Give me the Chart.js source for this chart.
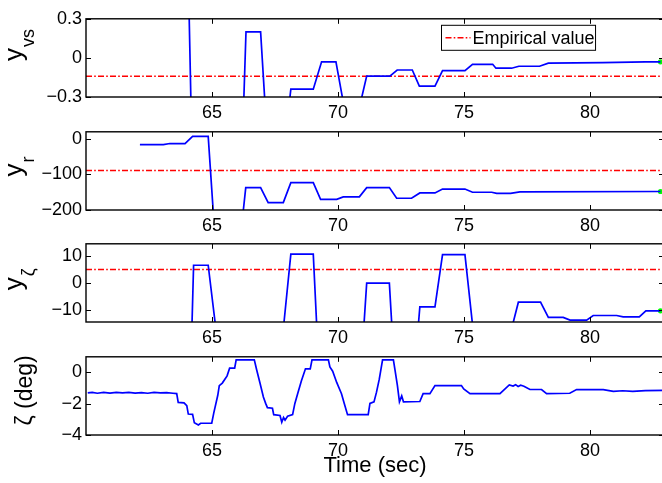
<!DOCTYPE html>
<html lang="en">
<head>
<meta charset="UTF-8">
<title>Observer outputs vs time</title>
<script src="https://cdn.jsdelivr.net/npm/chart.js"></script>
<style>
    html, body { margin: 0; padding: 0; background: #fff; overflow: hidden; }
    body { width: 662px; height: 483px; position: relative; }
    canvas { position: absolute; left: 0; }
</style>
</head>
<body>
<canvas id="panelVs"></canvas>
<canvas id="panelR"></canvas>
<canvas id="panelZeta"></canvas>
<canvas id="panelDeg"></canvas>
<script>
// shared time axis (sec)
const timeMin = 60;
const timeMax = 82.94;
const timeTicks = [65, 70, 75, 80];

// y_vs
const vsTime  = [62.14, 63.07, 63.33, 63.93, 64.0, 64.3, 66.05, 66.35, 66.93, 67.23, 67.83, 68.13, 69.02, 69.35, 69.92, 70.22, 70.85, 71.14, 72.06, 72.35, 72.95, 73.23, 73.85, 74.15, 75.04, 75.34, 76.14, 76.27, 76.89, 77.18, 78.0, 78.35, 80.5, 82.2, 82.8];
const vsValue = [0.95, 0.95, 0.9, 0.9, 1.2, -1.6, -1.6, 0.2, 0.2, -0.75, -0.75, -0.24, -0.24, -0.03, -0.03, -0.35, -0.38, -0.14, -0.14, -0.093, -0.093, -0.217, -0.217, -0.098, -0.098, -0.049, -0.049, -0.079, -0.079, -0.064, -0.064, -0.04, -0.037, -0.031, -0.03];
const vsEmpirical = -0.14;
const vsTicks = [-0.3, 0, 0.3];

// y_r
const rTime  = [62.14, 63.07, 63.33, 63.93, 64.23, 64.85, 65.15, 66.05, 66.34, 66.93, 67.23, 67.83, 68.13, 69.02, 69.31, 69.95, 70.21, 70.85, 71.14, 72.04, 72.33, 72.92, 73.25, 73.85, 74.15, 75.04, 75.34, 76.1, 76.3, 76.85, 77.22, 82.8];
const rValue = [-16, -16, -13, -13, 7, 7, -310, -330, -137, -137, -179, -179, -123, -123, -170, -170, -163, -163, -137, -137, -167, -167, -152, -152, -141, -141, -150, -150, -153, -153, -149, -148];
const rEmpirical = -89;
const rTicks = [-200, -100, 0];

// y_zeta
const zTime  = [62.14, 63.93, 64.27, 64.85, 65.15, 67.83, 68.13, 69.02, 69.31, 70.85, 71.14, 72.04, 72.33, 72.92, 73.25, 73.85, 74.15, 75.04, 75.34, 76.85, 77.16, 78.04, 78.35, 78.94, 79.21, 79.87, 80.13, 81.06, 81.32, 81.96, 82.22, 82.8];
const zValue = [-110, -110, 6.6, 6.6, -16.5, -17, 10.7, 10.7, -45, -41, 0, 0, -46, -46, -8.7, -8.7, 10.5, 10.5, -15.2, -18.3, -7, -7, -12.6, -12.6, -13.6, -13.6, -11.9, -11.9, -12.4, -12.4, -10.2, -10.2];
const zEmpirical = 5;
const zTicks = [-10, 0, 10];

// zeta (deg)
const degTime  = [60.07, 60.25, 60.45, 60.7, 60.95, 61.2, 61.45, 61.7, 61.95, 62.2, 62.45, 62.7, 62.95, 63.2, 63.45, 63.6, 63.66, 63.89, 64.0, 64.06, 64.23, 64.3, 64.46, 64.55, 64.99, 65.07, 65.23, 65.29, 65.41, 65.6, 65.7, 65.9, 65.96, 66.68, 66.77, 66.9, 67.04, 67.13, 67.2, 67.4, 67.45, 67.7, 67.77, 67.84, 67.9, 68.0, 68.2, 68.29, 68.4, 68.55, 68.71, 68.9, 68.97, 69.62, 69.68, 69.79, 69.95, 70.14, 70.25, 70.38, 71.2, 71.27, 71.43, 71.53, 71.64, 71.77, 72.2, 72.26, 72.36, 72.44, 72.53, 72.6, 73.25, 73.38, 73.65, 73.85, 74.9, 74.99, 75.24, 76.43, 76.8, 76.95, 77.05, 77.15, 77.25, 77.38, 77.62, 78.08, 78.28, 79.2, 79.47, 80.53, 80.93, 81.3, 81.7, 82.2, 82.94];
const degValue = [-1.31, -1.27, -1.33, -1.28, -1.32, -1.27, -1.31, -1.28, -1.32, -1.29, -1.33, -1.28, -1.31, -1.29, -1.33, -1.35, -1.92, -1.94, -2.12, -2.66, -2.68, -3.22, -3.36, -3.25, -3.25, -2.6, -1.46, -0.84, -0.68, -0.22, 0.27, 0.27, 0.8, 0.8, 0.19, -0.64, -1.57, -1.98, -2.25, -2.29, -2.7, -2.75, -3.18, -2.88, -3.05, -2.8, -2.7, -1.98, -1.36, -0.53, 0.23, 0.23, 0.8, 0.8, 0.35, 0.08, -0.64, -1.36, -1.98, -2.7, -2.7, -1.98, -1.88, -1.26, -0.43, 0.8, 0.8, 0.19, -0.84, -1.88, -1.5, -1.88, -1.86, -1.36, -1.36, -0.84, -0.84, -1.05, -1.36, -1.36, -0.8, -0.87, -0.78, -0.9, -0.82, -0.88, -1.09, -1.09, -1.36, -1.33, -1.09, -1.1, -1.21, -1.17, -1.21, -1.16, -1.15];
const degTicks = [-4, -2, 0];

const family = '"Liberation Sans", Arial, Helvetica, sans-serif';
Chart.defaults.font.family = family;
Chart.defaults.color = '#000';

const padTop = 12;
const plotH = 81;

function minusSign(v) {
    return String(v).replace('-', '\u2212');
}

function points(ts, vs) {
    return ts.map((t, i) => ({ x: t, y: vs[i] }));
}

// box around the axes plus inward tick marks on all four sides
const frameTicks = {
    id: 'frameTicks',
    afterDatasetsDraw(chart) {
        const { ctx, chartArea: a, scales: { x, y } } = chart;
        ctx.save();
        ctx.strokeStyle = '#000';
        ctx.lineWidth = 1;
        ctx.beginPath();
        x.ticks.forEach(t => {
            const px = Math.round(x.getPixelForValue(t.value)) + 0.5;
            ctx.moveTo(px, a.bottom); ctx.lineTo(px, a.bottom - 5);
            ctx.moveTo(px, a.top); ctx.lineTo(px, a.top + 5);
        });
        y.ticks.forEach(t => {
            const py = Math.round(y.getPixelForValue(t.value)) + 0.5;
            ctx.moveTo(a.left, py); ctx.lineTo(a.left + 5, py);
            ctx.moveTo(a.right, py); ctx.lineTo(a.right - 5, py);
        });
        ctx.stroke();
        ctx.lineWidth = 1.4;
        ctx.strokeRect(a.left, a.top, a.right - a.left, a.bottom - a.top);
        ctx.restore();
    }
};

// rotated y label, optional subscript
const sideLabel = {
    id: 'sideLabel',
    afterDraw(chart, args, o) {
        if (!o.main) return;
        const { ctx, chartArea: a } = chart;
        const cy = (a.top + a.bottom) / 2 + o.shift;
        ctx.save();
        ctx.fillStyle = '#000';
        ctx.textBaseline = 'alphabetic';
        ctx.font = o.mainSize + 'px ' + family;
        const mw = ctx.measureText(o.main).width + o.gap;
        ctx.font = o.subSize + 'px ' + family;
        const sw = o.sub ? ctx.measureText(o.sub).width : 0;
        ctx.translate(o.baseX, cy + (mw + sw) / 2);
        ctx.rotate(-Math.PI / 2);
        ctx.font = o.mainSize + 'px ' + family;
        ctx.fillText(o.main, 0, 0);
        if (o.sub) {
            ctx.font = o.subSize + 'px ' + family;
            ctx.fillText(o.sub, mw, o.subDrop);
        }
        ctx.restore();
    }
};

// legend box for the red reference line
const empiricalLegend = {
    id: 'empiricalLegend',
    afterDraw(chart, args, o) {
        if (!o.show) return;
        const ds = chart.data.datasets[1];
        const { ctx, chartArea: a } = chart;
        ctx.save();
        ctx.font = '18px ' + family;
        const tw = ctx.measureText(ds.label).width;
        const bx = 441.5, by = a.top + 6.5, bw = 32 + tw, bh = 25;
        ctx.fillStyle = '#fff';
        ctx.fillRect(bx, by, bw, bh);
        ctx.strokeStyle = '#000';
        ctx.lineWidth = 1;
        ctx.strokeRect(bx, by, bw, bh);
        ctx.strokeStyle = ds.borderColor;
        ctx.lineWidth = ds.borderWidth;
        ctx.setLineDash(ds.borderDash);
        ctx.beginPath();
        ctx.moveTo(bx + 4, by + bh / 2);
        ctx.lineTo(bx + 29, by + bh / 2);
        ctx.stroke();
        ctx.setLineDash([]);
        ctx.fillStyle = '#000';
        ctx.textBaseline = 'middle';
        ctx.fillText(ds.label, bx + 31, by + bh / 2 + 1);
        ctx.restore();
    }
};

function buildPanel(id, plotTop, p) {
    const canvas = document.getElementById(id);
    canvas.width = 680;
    canvas.height = padTop + plotH + p.axisH;
    canvas.style.top = (plotTop - padTop) + 'px';

    const datasets = [{
        label: p.name,
        data: points(p.time, p.value),
        borderColor: '#0000ff',
        borderWidth: 1.7,
        pointRadius: 0,
        clip: 0
    }];
    if (p.empirical !== undefined) {
        datasets.push({
            label: 'Empirical value',
            data: [{ x: timeMin, y: p.empirical }, { x: timeMax, y: p.empirical }],
            borderColor: '#ff0000',
            borderWidth: 1.5,
            borderDash: [6, 2.2, 1.6, 2.2],
            pointRadius: 0,
            clip: 0
        });
        const n = p.time.length - 1;
        datasets.push({
            label: 'current',
            data: [{ x: p.time[n], y: p.value[n] }],
            showLine: false,
            pointRadius: 2.6,
            pointBorderWidth: 0,
            pointBackgroundColor: '#00ff00',
            clip: false
        });
    }

    return new Chart(canvas, {
        type: 'line',
        data: { datasets },
        options: {
            responsive: false,
            animation: false,
            events: [],
            layout: { padding: { top: padTop, right: 16, left: 0, bottom: 0 } },
            scales: {
                x: {
                    type: 'linear',
                    min: timeMin,
                    max: timeMax,
                    grid: { display: false, drawTicks: false },
                    border: { display: false },
                    afterBuildTicks: s => { s.ticks = timeTicks.map(v => ({ value: v })); },
                    afterFit: s => { s.height = p.axisH; },
                    ticks: { font: { size: 18 }, padding: 5, maxRotation: 0 },
                    title: p.xTitle ? {
                        display: true,
                        text: p.xTitle,
                        font: { size: 22 },
                        padding: { top: 0, bottom: 4 }
                    } : { display: false }
                },
                y: {
                    min: p.range[0],
                    max: p.range[1],
                    grid: { display: false, drawTicks: false },
                    border: { display: false },
                    afterBuildTicks: s => { s.ticks = p.ticks.map(v => ({ value: v })); },
                    afterFit: s => { s.width = 86; },
                    ticks: { font: { size: 18 }, padding: 4, callback: v => minusSign(v) }
                }
            },
            plugins: {
                legend: { display: false },
                tooltip: { enabled: false },
                sideLabel: p.label,
                empiricalLegend: { show: !!p.showLegend }
            }
        },
        plugins: [frameTicks, sideLabel, empiricalLegend]
    });
}

buildPanel('panelVs', 16, {
    name: 'y_vs', time: vsTime, value: vsValue, empirical: vsEmpirical,
    ticks: vsTicks, range: [-0.3, 0.3], axisH: 26, showLegend: true,
    label: { main: 'y', sub: 'vs', mainSize: 26, subSize: 18, gap: 1, baseX: 22, subDrop: 12, shift: -13 }
});
buildPanel('panelR', 129, {
    name: 'y_r', time: rTime, value: rValue, empirical: rEmpirical,
    ticks: rTicks, range: [-200, 20], axisH: 26,
    label: { main: 'y', sub: 'r', mainSize: 26, subSize: 18, gap: 1, baseX: 22, subDrop: 12, shift: -4.5 }
});
buildPanel('panelZeta', 241, {
    name: 'y_zeta', time: zTime, value: zValue, empirical: zEmpirical,
    ticks: zTicks, range: [-14.3, 14.5], axisH: 26,
    label: { main: 'y', sub: '\u03b6', mainSize: 26, subSize: 18, gap: 1, baseX: 22, subDrop: 12, shift: -3.5 }
});
buildPanel('panelDeg', 354, {
    name: 'zeta', time: degTime, value: degValue,
    ticks: degTicks, range: [-4, 1], axisH: 48, xTitle: 'Time (sec)',
    label: { main: '\u03b6 (deg)', sub: '', mainSize: 23, subSize: 18, gap: 0, baseX: 32, subDrop: 0, shift: -5.5 }
});
</script>
</body>
</html>
